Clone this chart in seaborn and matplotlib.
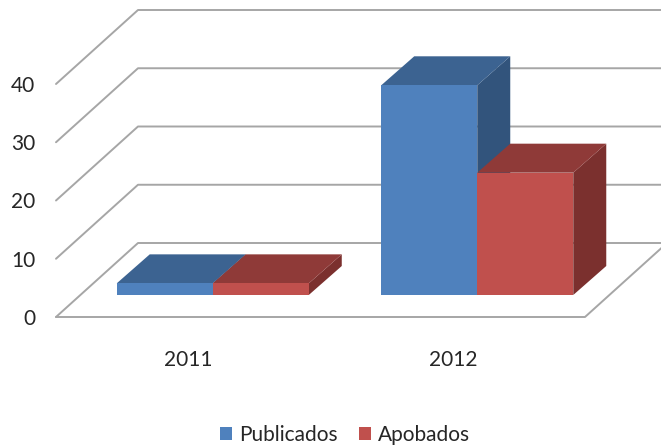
import pandas as pd
import seaborn as sns
import matplotlib.pyplot as plt
from matplotlib.patches import Polygon
from matplotlib.transforms import IdentityTransform

# data
years = ['2011', '2012']
publicados = [2, 36]
apobados = [2, 21]
y_ticks = [0, 10, 20, 30, 40]

W, H = 661, 445
blue, blue_top, blue_side = '#4F81BD', '#3C6391', '#32547C'
red, red_top, red_side = '#C0504D', '#8F3A38', '#7B302E'
line_color = '#A6A6A6'
text_color = '#262626'

sns.set_style('white')
plt.rcParams['font.family'] = ['Lato', 'DejaVu Sans']

data = pd.DataFrame({
    'year': years * 2,
    'value': publicados + apobados,
    'serie': ['Publicados'] * 2 + ['Apobados'] * 2,
})


def px_axes(fig, left, right, bottom, top):
    # axes position given in image pixels (y counted from the top)
    ax = fig.add_axes([left / W, 1 - bottom / H, (right - left) / W, (bottom - top) / H])
    ax.patch.set_visible(False)
    return ax


fig = plt.figure(figsize=(W / 100, H / 100), dpi=100)

# front plane: carries the ticks, the walls hang off it
front = px_axes(fig, 56, 585, 317, 84)
front.set_xlim(-0.5, 1.5)
front.set_ylim(0, 40)
front.set_xticks([0, 1], years)
front.set_yticks(y_ticks)
front.tick_params(axis='x', length=0, pad=24, labelsize=15, labelcolor=text_color)
front.tick_params(axis='y', length=0, pad=15, labelsize=15, labelcolor=text_color)
sns.despine(ax=front, left=True, bottom=True)

# wall and floor lines, in pixels from the tick positions
wall_dx, wall_dy = 82, 74
for v in y_ticks:
    x0, y0 = front.transData.transform((-0.5, v))
    front.plot([x0, x0 + wall_dx, W], [y0, y0 + wall_dy, y0 + wall_dy], color=line_color, lw=1.4,
               transform=IdentityTransform(), clip_on=False, zorder=1)
x0, y0 = front.transData.transform((-0.5, 0))
x1, _ = front.transData.transform((1.5, 0))
front.plot([x0, x1, x1 + wall_dx], [y0, y0, y0 + wall_dy], color=line_color, lw=1.4,
           transform=IdentityTransform(), clip_on=False, zorder=1)
front.set_xlim(-0.5, 1.5)
front.set_ylim(0, 40)

# bars sit on the floor, same scales as the front plane but shifted
ax = px_axes(fig, 80.5, 609.5, 295, 62)
sns.barplot(data=data, x='year', y='value', hue='serie', order=years, palette=[blue, red],
            width=0.726, saturation=1, linewidth=0, ax=ax, zorder=3)
ax.set_xlim(-0.5, 1.5)
ax.set_ylim(0, 40)
ax.axis('off')

# top and side faces worked out from each bar
bar_dx, bar_dy = 33, 29
for container, top_c, side_c in zip(ax.containers, [blue_top, red_top], [blue_side, red_side]):
    for bar in container:
        (xa, ya), (xb, yb) = ax.transData.transform(bar.get_bbox().get_points())
        side = [(xb, ya), (xb + bar_dx, ya + bar_dy), (xb + bar_dx, yb + bar_dy), (xb, yb)]
        top = [(xa, yb), (xa + bar_dx, yb + bar_dy), (xb + bar_dx, yb + bar_dy), (xb, yb)]
        ax.add_patch(Polygon(side, facecolor=side_c, edgecolor='none', transform=IdentityTransform(),
                             clip_on=False, zorder=2))
        ax.add_patch(Polygon(top, facecolor=top_c, edgecolor='none', transform=IdentityTransform(),
                             clip_on=False, zorder=2))

handles, labels = ax.get_legend_handles_labels()
ax.legend_.remove()
fig.legend(handles, labels, ncol=2, frameon=False, loc='center', bbox_to_anchor=(345 / W, 1 - 435 / H),
           fontsize=15, labelcolor=text_color, handlelength=0.58, handleheight=0.58,
           handletextpad=0.33, columnspacing=1.05, borderpad=0)

fig.savefig('out.png', dpi=100)
